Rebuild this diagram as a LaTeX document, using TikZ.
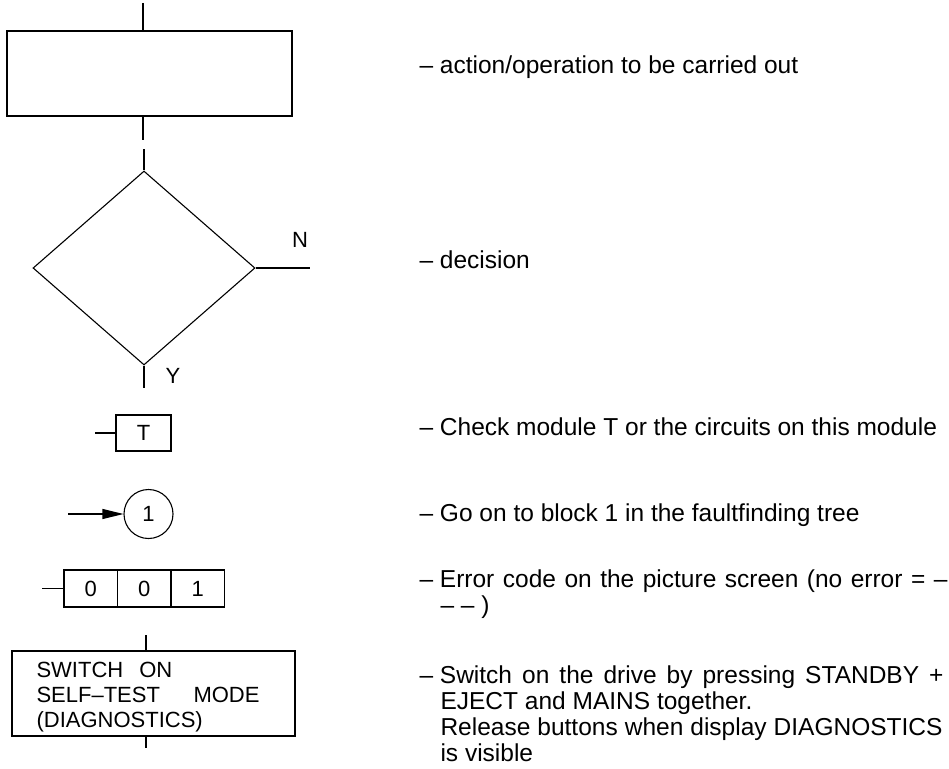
\documentclass[tikz,border=0pt]{standalone}
\usepackage{fontspec}
\setmainfont{Liberation Sans}
\usepackage{tikz}
\usetikzlibrary{arrows.meta,shapes.geometric}

\begin{document}
\begin{tikzpicture}[x=1pt, y=-1pt, line width=1.1pt, >={Triangle[length=21pt,width=10pt]},
    symbox/.style={draw, inner sep=0pt},
    lbl/.style={inner sep=0pt, font=\fontsize{22}{25}\selectfont},
    desc/.style={anchor=base west, inner sep=0pt, font=\fontsize{24.5}{26}\selectfont}]
    \useasboundingbox (0,0) rectangle (949,768);

    % Draw action box
    \node[symbox, minimum width=285pt, minimum height=85pt] (act) at (149.5,73.5) {};
    \coordinate (actin) at (143,3);
    \coordinate (actout) at (143,140);
    \draw (actin) -- (actin |- act.north);
    \draw (actout |- act.south) -- (actout);

    % Draw decision diamond
    \node[symbox, diamond, aspect=1.14, minimum width=222pt, minimum height=194pt] (dec) at (144,268) {};
    \coordinate (decin) at (144,149);
    \coordinate (decy) at (144,388);
    \coordinate (decn) at (310,268);
    \draw (decin) -- (dec.north);
    \draw (dec.south) -- (decy);
    \draw (dec.east) -- (decn);
    \node[lbl] (nlab) at (300,240) {N};
    \node[lbl] (ylab) at (173,376) {Y};

    % Module box
    \node[symbox, lbl, minimum width=55pt, minimum height=36pt] (tmod) at (143.5,433) {T};
    \coordinate (tin) at (95,433);
    \draw (tin) -- (tmod.west);

    % Connector to block 1
    \node[symbox, lbl, circle, minimum size=49pt] (blk) at (148.5,514) {1};
    \coordinate (blkin) at (68,514);
    \draw[->] (blkin) -- (blk.west);

    % Error code
    \foreach \d [count=\i] in {0,0,1}
        \node[symbox, lbl, minimum width=53.5pt, minimum height=37pt] (err\i) at ({64+53.5*(\i-0.5)},588.5) {\d};
    \coordinate (errin) at (42,588.5);
    \draw (errin) -- (err1.west);

    % Switch on box
    \node[symbox, minimum width=283pt, minimum height=85pt] (sw) at (153.5,693.5) {};
    \node[lbl, anchor=north west, align=left] (swtxt) at (36,662) {SWITCH\hspace{16pt}ON\\\makebox[223pt][s]{SELF–TEST MODE}\\(DIAGNOSTICS)};
    \coordinate (swin) at (146,635);
    \coordinate (swout) at (146,748);
    \draw (swin) -- (swin |- sw.north);
    \draw (swout |- sw.south) -- (swout);

    % Explanations
    \node[desc] (dact) at (419,73) {–\hspace{6.8pt}action/operation to be carried out};
    \node[desc] (ddec) at (419,268) {–\hspace{6.8pt}decision};
    \node[desc] (dmod) at (419,435) {–\hspace{6.8pt}Check module T or the circuits on this module};
    \node[desc] (dblk) at (419,521) {–\hspace{6.8pt}Go on to block 1 in the faultfinding tree};
    \node[desc] (derr) at (419,587) {\makebox[528pt][s]{–\hspace{6.8pt}Error code on the picture screen (no error = –}};
    \node[desc] (derrb) at (440,613) {– – )};
    \node[desc] (dsw) at (419,683) {\makebox[524pt][s]{–\hspace{6.8pt}Switch on the drive by pressing STANDBY +}};
    \node[desc] (dswb) at (440,709) {EJECT and MAINS together.};
    \node[desc] (dswc) at (440,735) {\makebox[502pt][s]{Release buttons when display DIAGNOSTICS}};
    \node[desc] (dswd) at (440,761) {is visible};
\end{tikzpicture}
\end{document}
